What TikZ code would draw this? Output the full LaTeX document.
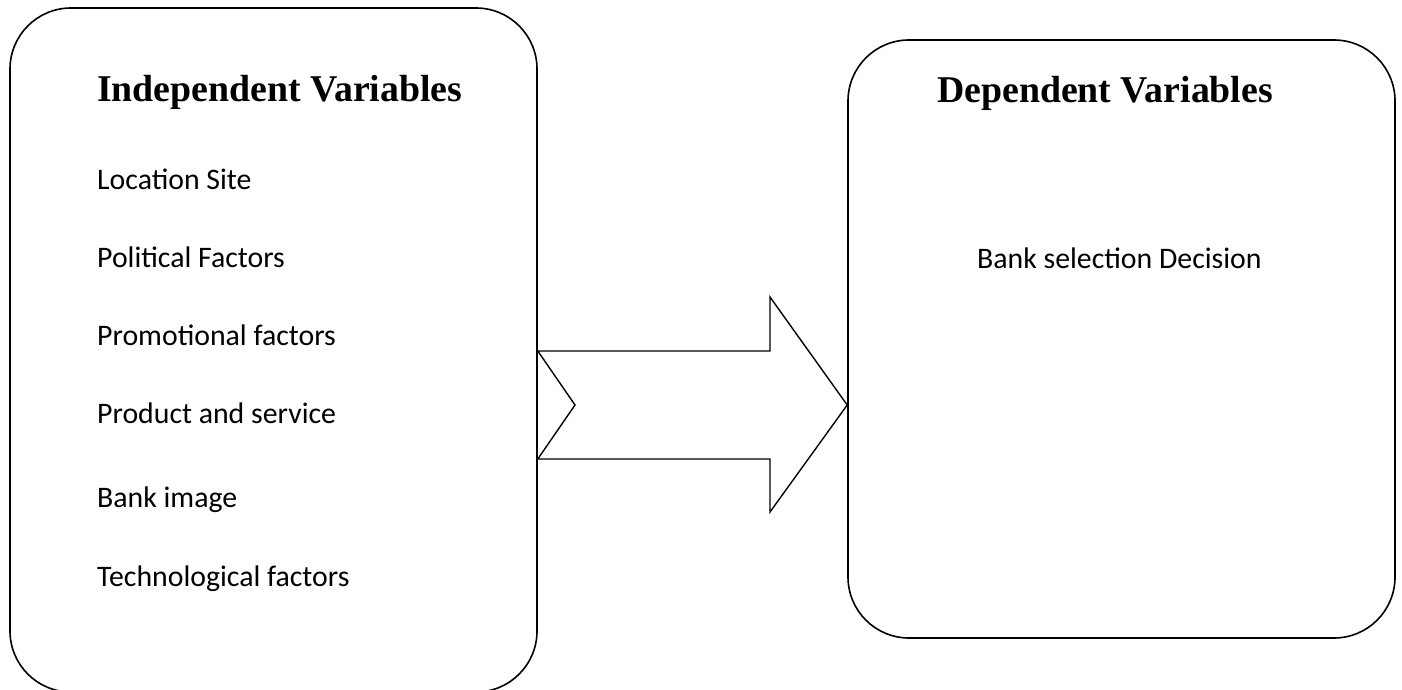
\documentclass[tikz,border=0pt]{standalone}
\usepackage{fontspec}
\setmainfont{Liberation Serif}
\newfontfamily\bodyfont{Carlito}
\begin{document}
\begin{tikzpicture}[x=1pt,y=-1pt,
  varbox/.style={draw=black,line width=1.6pt,rounded corners=61pt,inner sep=0pt,minimum width=#1},
  title/.style={anchor=base west,inner sep=0pt,font=\fontsize{37.8}{42}\selectfont\bfseries},
  item/.style={anchor=base west,inner sep=0pt,font=\fontsize{29.8}{33}\bodyfont},
  blockarrow/.style={draw=black,line width=1.4pt,line join=miter}]
\useasboundingbox (0,0) rectangle (1402,690);
\node[varbox=527pt,minimum height=684pt] (L) at (273.5,350) {};
\node[varbox=547pt,minimum height=598pt] (R) at (1121.5,339) {};
\node[title] (lt) at (97,102) {Independent Variables};
\node[title] (rt) at (937,103) {Dependent Variables};
\node[item] (i1) at (97,189) {Location Site};
\node[item] (i2) at (97,267) {Political Factors};
\node[item] (i3) at (97,345) {Promotional factors};
\node[item] (i4) at (97,423) {Product and service};
\node[item] (i5) at (97,507) {Bank image};
\node[item] (i6) at (97,586) {Technological factors};
\node[item] (d1) at (977,268) {Bank selection Decision};
\coordinate (tailtop) at (L.east |- 0,351);
\coordinate (tailbot) at (L.east |- 0,459);
\coordinate (tip) at (R.west |- 0,405);
\draw[blockarrow] (tailtop) -- (770,351) -- (770,297) -- (tip) -- (770,512) -- (770,459) -- (tailbot) -- (575,405) -- cycle;
\end{tikzpicture}
\end{document}
